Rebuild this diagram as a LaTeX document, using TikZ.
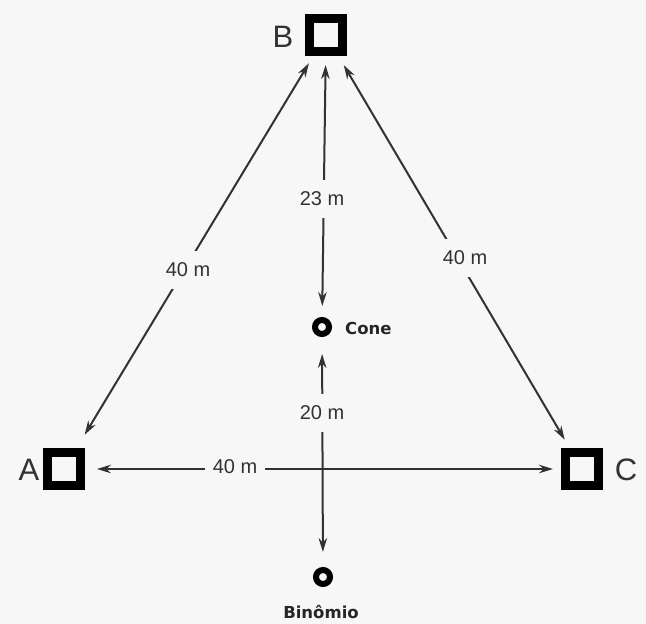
\documentclass[tikz,border=0pt]{standalone}
\usepackage{fontspec}
\setmainfont{Liberation Sans}
\newfontfamily\labfont{DejaVu Sans}
\usetikzlibrary{arrows.meta}
\definecolor{bg}{RGB}{247,247,247}
\definecolor{ink}{RGB}{50,50,50}
\tikzset{
  sq/.style={draw=black, line width=8.5pt, minimum size=33pt, inner sep=0pt, fill=bg},
  ring/.style={circle, draw=black, line width=6pt, minimum size=14pt, inner sep=0pt},
  arr/.style={draw=ink, line width=2pt, {Stealth[length=14pt,width=8.5pt]}-{Stealth[length=14pt,width=8.5pt]}},
  lbl/.style={fill=bg, text=ink, font=\fontsize{20}{22}\selectfont, inner xsep=8pt, inner ysep=12pt},
  letter/.style={text=ink, font=\fontsize{31}{33}\selectfont, inner sep=0pt},
  small/.style={text=black!85, font=\labfont\bfseries\fontsize{16.5}{18}\selectfont, inner sep=0pt}
}
\begin{document}
\begin{tikzpicture}[x=1pt,y=-1pt]
  \fill[bg] (0,0) rectangle (646,624);
  \useasboundingbox (0,0) rectangle (646,624);
  % nodes
  \node[sq] (B) at (326,35) {};
  \node[sq] (A) at (64,469) {};
  \node[sq] (C) at (582,469) {};
  \node[ring] (cone) at (322,327) {};
  \node[ring] (bin) at (323,577) {};
  \node[letter] (lB) at (283,37) {B};
  \node[letter] (lA) at (29,470) {A};
  \node[letter] (lC) at (626,470) {C};
  \node[small, anchor=west] (tcone) at (345,328) {Cone};
  \node[small] (tbin) at (321,612) {Binômio};
  % connectors
  \draw[arr, shorten <=33pt, shorten >=40pt] (B.center) -- (A.center);
  \draw[arr, shorten <=35pt, shorten >=34pt] (B.center) -- (C.center);
  \draw[arr, shorten <=30pt, shorten >=21pt] (B.center) -- (cone.center);
  \draw[arr, shorten <=27pt, shorten >=25pt] (cone.center) -- (bin.center);
  \draw[arr, shorten <=33pt, shorten >=29pt] (A.center) -- (C.center);
  % labels
  \node[lbl] (d1) at (188,270) {40 m};
  \node[lbl] (d2) at (465,258) {40 m};
  \node[lbl] (d3) at (322,199) {23 m};
  \node[lbl] (d4) at (322,413) {20 m};
  \node[lbl] (d5) at (235,467) {40 m};
\end{tikzpicture}
\end{document}
